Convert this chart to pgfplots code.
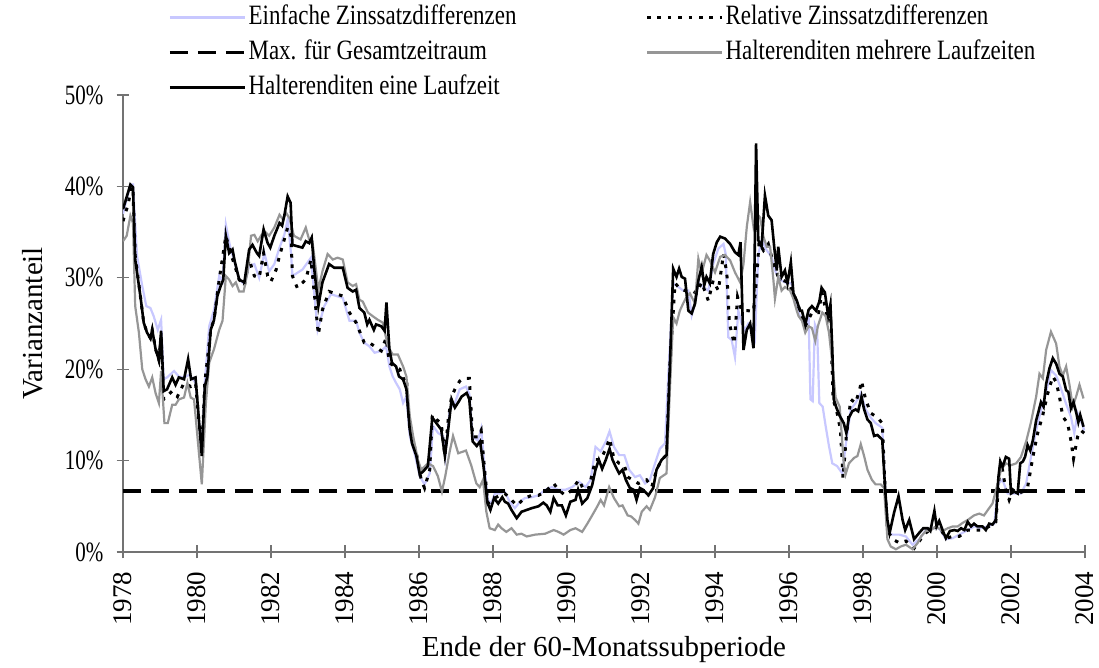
\documentclass[border=0pt]{standalone}
\usepackage{pgfplots}
\pgfplotsset{compat=1.18}
\usepackage{fontspec}
\setmainfont{Liberation Serif}
\newfontfamily\legfont[FakeStretch=0.82]{Liberation Serif}
\newfontfamily\tickfont[FakeStretch=0.75]{Liberation Serif}
\definecolor{lavender}{RGB}{200,200,255}
\definecolor{midgray}{RGB}{150,150,150}

\begin{document}
\begin{tikzpicture}
\begin{axis}[
    scale only axis, width=481pt, height=228.5pt,
    xmin=1978, xmax=2004, ymin=0, ymax=50,
    axis lines*=left,
    axis line style={black!55, line width=0.6pt},
    tick style={black!55, line width=0.6pt},
    tick align=center, major tick length=6.5pt,
    xtick={1978,1980,...,2004},
    ytick={0,10,20,30,40,50},
    yticklabels={0\%,10\%,20\%,30\%,40\%,50\%},
    /pgf/number format/assume math mode=true,
    /pgf/number format/1000 sep={},
    xticklabel style={rotate=90, anchor=east, font=\fontsize{13.5}{16}\selectfont},
    yticklabel style={font=\tickfont\fontsize{14}{16}\selectfont},
    xticklabel shift=3pt, yticklabel shift=3pt,
    xlabel={Ende der 60-Monatssubperiode},
    ylabel={Varianzanteil},
    xlabel style={font=\fontsize{14.5}{17}\selectfont, at={(axis description cs:0.5,-0.2144)}, anchor=center},
    ylabel style={font=\fontsize{14.5}{17}\selectfont, at={(axis description cs:-0.0936,0.5)}, anchor=center},
    legend columns=2, legend cell align=left,
    legend style={draw=none, fill=none, at={(axis description cs:0,1)}, anchor=north west,
        xshift=22.5pt, yshift=47pt, font=\legfont\fontsize{14}{17}\selectfont,
        inner sep=0pt, row sep=1.5pt, /tikz/column 2/.style={column sep=63.5pt},
        nodes={inner sep=1pt, text height=10.5pt, text depth=3.5pt}},
    legend image code/.code={\draw[#1] (0pt,0pt) -- (37.5pt,0pt);},
]
% Einfache Zinssatzdifferenzen
\addplot[lavender, line width=1.1pt] coordinates {
(1978.00,37.0) (1978.20,40.2) (1978.27,40.2) (1978.38,32.4) (1978.52,29.1) (1978.63,26.9)
(1978.74,26.7) (1978.83,25.8) (1978.94,24.3) (1979.03,25.4) (1979.10,18.9) (1979.19,19.1)
(1979.38,19.8) (1979.51,19.2) (1979.65,19.1) (1979.80,19.4) (1979.96,18.5) (1980.13,10.8)
(1980.21,18.5) (1980.33,24.7) (1980.46,26.5) (1980.60,30.2) (1980.69,29.6) (1980.78,35.8)
(1980.91,33.1) (1981.00,32.0) (1981.14,29.8) (1981.28,29.3) (1981.41,31.3) (1981.55,31.5)
(1981.68,30.0) (1981.82,32.7) (1981.95,30.7) (1982.09,31.5) (1982.23,33.3) (1982.36,34.7)
(1982.45,36.4) (1982.54,32.7) (1982.58,30.2) (1982.85,30.9) (1983.08,32.2) (1983.26,24.3)
(1983.44,26.9) (1983.62,28.2) (1983.94,27.8) (1984.12,25.3) (1984.30,25.3) (1984.39,24.0)
(1984.52,22.9) (1984.66,22.5) (1984.80,21.8) (1984.98,22.0) (1985.11,22.5) (1985.20,20.3)
(1985.29,19.2) (1985.38,18.5) (1985.48,17.8) (1985.57,16.3) (1985.66,17.0) (1985.75,12.7)
(1985.88,10.8) (1986.02,8.3) (1986.15,7.4) (1986.29,8.6) (1986.38,13.8) (1986.52,13.0)
(1986.65,12.7) (1986.71,10.5) (1986.83,15.6) (1986.97,16.3) (1987.10,17.8) (1987.27,18.1)
(1987.36,17.3) (1987.45,12.6) (1987.59,12.2) (1987.68,13.5) (1987.77,9.3) (1987.86,5.7)
(1987.95,5.3) (1988.05,6.4) (1988.18,6.4) (1988.32,6.6) (1988.45,5.5) (1988.59,4.8)
(1988.73,5.5) (1988.86,5.9) (1989.05,6.0) (1989.23,6.2) (1989.41,6.8) (1989.59,7.1)
(1989.77,6.8) (1989.95,6.8) (1990.14,7.1) (1990.32,7.7) (1990.50,7.1) (1990.64,7.9)
(1990.77,11.5) (1990.91,11.0) (1991.05,12.1) (1991.15,13.2) (1991.27,11.5) (1991.41,10.6)
(1991.55,10.6) (1991.68,9.0) (1991.84,8.2) (1991.97,8.4) (1992.11,7.5) (1992.24,7.9)
(1992.38,9.7) (1992.51,11.3) (1992.65,11.9) (1992.74,19.5) (1992.87,29.4) (1993.01,29.0)
(1993.14,28.6) (1993.28,28.6) (1993.37,25.9) (1993.46,27.2) (1993.55,29.5) (1993.68,29.0)
(1993.82,28.6) (1993.95,31.5) (1994.09,33.2) (1994.23,33.7) (1994.29,32.6) (1994.36,23.5)
(1994.45,23.2) (1994.54,21.3) (1994.63,26.4) (1994.72,25.0) (1994.81,24.3) (1994.90,25.0)
(1995.01,24.6) (1995.08,23.5) (1995.17,32.6) (1995.26,34.1) (1995.40,33.0) (1995.53,32.3)
(1995.62,30.8) (1995.71,30.1) (1995.80,29.7) (1995.94,29.4) (1996.07,29.4) (1996.16,27.2)
(1996.30,25.8) (1996.44,24.7) (1996.53,25.8) (1996.58,16.7) (1996.64,16.5) (1996.70,24.9)
(1996.76,24.3) (1996.82,16.3) (1996.91,15.9) (1996.99,13.8) (1997.08,11.6) (1997.17,9.7)
(1997.30,9.4) (1997.44,8.6) (1997.53,11.6) (1997.67,15.6) (1997.80,16.3) (1997.94,17.4)
(1998.07,15.6) (1998.21,14.7) (1998.34,14.1) (1998.52,13.6) (1998.60,7.2) (1998.66,2.1)
(1998.80,1.9) (1998.98,1.9) (1999.16,1.7) (1999.34,0.8) (1999.52,1.4) (1999.70,2.4)
(1999.88,2.6) (2000.06,2.6) (2000.24,1.4) (2000.42,1.5) (2000.60,1.9) (2000.83,2.4)
(2001.01,2.8) (2001.19,2.6) (2001.37,2.8) (2001.55,3.1) (2001.66,7.5) (2001.77,7.9)
(2001.91,6.4) (2002.09,6.4) (2002.27,6.4) (2002.41,7.5) (2002.54,10.4) (2002.68,13.3)
(2002.81,15.5) (2002.95,17.5) (2003.08,19.9) (2003.22,19.3) (2003.35,17.9) (2003.49,16.2)
(2003.62,14.8) (2003.71,13.0) (2003.80,15.2) (2003.89,14.4) (2003.98,13.3)
};
\addlegendentry{Einfache Zinssatzdifferenzen}
% Relative Zinssatzdifferenzen
\addplot[black, line width=1.5pt, dash pattern=on 1.8pt off 3.4pt] coordinates {
(1978.00,36.2) (1978.15,38.2) (1978.22,40.0) (1978.27,39.5) (1978.33,32.4) (1978.47,28.0)
(1978.56,25.1) (1978.65,24.0) (1978.74,23.4) (1978.79,24.3) (1978.88,22.2) (1978.97,21.0)
(1979.03,23.5) (1979.10,16.7) (1979.33,17.6) (1979.47,17.0) (1979.65,18.5) (1979.83,18.1)
(1979.96,18.5) (1980.13,10.8) (1980.21,18.5) (1980.37,24.3) (1980.46,25.4) (1980.60,29.8)
(1980.78,34.6) (1980.91,32.7) (1981.14,29.8) (1981.28,29.1) (1981.41,32.0) (1981.55,30.2)
(1981.68,30.0) (1981.80,32.7) (1981.91,30.2) (1982.00,29.6) (1982.14,30.9) (1982.23,32.4)
(1982.36,34.2) (1982.45,35.5) (1982.54,34.6) (1982.58,30.2) (1982.71,28.9) (1982.94,29.8)
(1983.08,32.0) (1983.28,23.8) (1983.39,26.5) (1983.57,28.5) (1983.94,28.0) (1984.12,26.2)
(1984.30,25.1) (1984.39,24.2) (1984.52,22.9) (1984.66,22.9) (1984.80,22.5) (1984.98,22.0)
(1985.11,23.4) (1985.20,20.7) (1985.34,20.3) (1985.48,20.0) (1985.57,18.9) (1985.66,19.1)
(1985.75,13.4) (1985.93,10.8) (1986.06,7.9) (1986.15,7.0) (1986.29,9.0) (1986.36,15.0)
(1986.47,14.5) (1986.60,14.1) (1986.70,10.5) (1986.79,14.5) (1986.88,17.0) (1986.97,17.8)
(1987.10,18.7) (1987.20,19.0) (1987.36,19.0) (1987.45,12.6) (1987.59,12.6) (1987.68,13.3)
(1987.77,9.1) (1987.86,5.3) (1988.05,5.9) (1988.18,6.2) (1988.32,6.4) (1988.50,5.7)
(1988.64,5.1) (1988.86,5.9) (1989.05,6.2) (1989.23,6.2) (1989.41,6.6) (1989.64,7.5)
(1989.77,6.8) (1989.95,6.2) (1990.14,6.8) (1990.32,7.9) (1990.45,6.8) (1990.59,7.0)
(1990.77,10.1) (1990.91,10.1) (1991.05,11.3) (1991.15,12.4) (1991.27,10.2) (1991.41,9.7)
(1991.55,9.5) (1991.64,8.2) (1991.77,7.9) (1991.93,7.5) (1992.15,7.9) (1992.29,7.1)
(1992.42,9.0) (1992.56,10.1) (1992.69,10.6) (1992.78,20.3) (1992.92,29.4) (1993.06,28.8)
(1993.19,28.6) (1993.37,28.6) (1993.50,28.3) (1993.64,29.5) (1993.82,27.5) (1993.95,29.7)
(1994.09,28.6) (1994.23,32.6) (1994.32,30.5) (1994.39,25.0) (1994.52,22.8) (1994.61,27.9)
(1994.72,26.4) (1994.90,26.4) (1995.04,26.3) (1995.13,30.1) (1995.19,33.9) (1995.31,33.0)
(1995.44,33.7) (1995.58,31.5) (1995.71,30.1) (1995.85,29.7) (1995.98,29.5) (1996.16,27.9)
(1996.30,26.4) (1996.44,24.7) (1996.62,26.2) (1996.80,26.2) (1996.89,28.4) (1997.03,25.8)
(1997.12,26.5) (1997.19,16.7) (1997.28,15.6) (1997.39,13.4) (1997.46,8.1) (1997.55,12.7)
(1997.67,16.7) (1997.80,16.3) (1997.91,17.8) (1997.96,18.7) (1998.07,16.7) (1998.21,15.2)
(1998.39,14.7) (1998.52,14.1) (1998.60,6.8) (1998.66,2.4) (1998.80,1.4) (1998.98,1.0)
(1999.16,1.2) (1999.38,0.4) (1999.56,1.4) (1999.70,2.1) (1999.88,2.6) (2000.06,2.8)
(2000.24,1.5) (2000.42,1.7) (2000.60,1.7) (2000.83,2.4) (2001.01,2.4) (2001.23,2.4)
(2001.41,2.8) (2001.59,3.3) (2001.68,8.2) (2001.77,9.0) (2001.86,6.8) (2001.95,5.7)
(2002.05,6.8) (2002.18,6.4) (2002.32,6.6) (2002.45,7.1) (2002.59,10.4) (2002.72,13.0)
(2002.86,15.0) (2002.99,17.3) (2003.13,19.2) (2003.22,18.6) (2003.31,17.0) (2003.40,14.8)
(2003.53,14.1) (2003.62,12.2) (2003.69,10.2) (2003.80,12.6) (2003.89,13.3) (2003.98,13.0)
};
\addlegendentry{Relative Zinssatzdifferenzen}
% Max. fuer Gesamtzeitraum
\addplot[black, line width=1.6pt, dash pattern=on 9pt off 5pt] coordinates {
(1978,6.67) (2004,6.67)
};
\addlegendentry{Max. für Gesamtzeitraum}
% Halterenditen mehrere Laufzeiten
\addplot[midgray, line width=1.1pt] coordinates {
(1978.00,34.0) (1978.10,34.6) (1978.20,36.8) (1978.27,36.0) (1978.33,26.9) (1978.43,24.0)
(1978.52,20.0) (1978.61,18.9) (1978.70,18.1) (1978.79,19.1) (1978.88,17.4) (1978.97,16.3)
(1979.03,19.8) (1979.12,14.1) (1979.21,14.1) (1979.33,16.1) (1979.42,16.1) (1979.51,16.7)
(1979.65,16.9) (1979.74,18.5) (1979.83,16.9) (1979.92,16.7) (1980.13,7.4) (1980.24,16.3)
(1980.33,20.7) (1980.46,22.2) (1980.60,24.3) (1980.69,25.3) (1980.78,30.2) (1980.87,29.8)
(1980.96,29.1) (1981.05,29.5) (1981.14,28.5) (1981.26,28.5) (1981.37,30.7) (1981.46,34.6)
(1981.55,34.7) (1981.64,34.0) (1981.73,34.6) (1981.82,35.1) (1981.95,34.6) (1982.09,35.5)
(1982.23,36.9) (1982.32,36.4) (1982.41,37.1) (1982.50,36.5) (1982.62,34.6) (1982.80,34.2)
(1982.94,35.5) (1983.03,34.2) (1983.12,34.0) (1983.28,28.7) (1983.39,30.7) (1983.53,32.6)
(1983.67,32.0) (1983.80,32.2) (1983.94,32.0) (1984.07,29.5) (1984.21,29.1) (1984.30,29.3)
(1984.39,27.6) (1984.48,27.4) (1984.62,26.2) (1984.75,25.8) (1984.89,25.4) (1985.02,25.1)
(1985.16,22.5) (1985.29,21.6) (1985.43,21.6) (1985.57,20.3) (1985.66,19.2) (1985.75,14.9)
(1985.84,12.7) (1985.97,10.1) (1986.06,9.0) (1986.24,9.7) (1986.38,9.4) (1986.51,8.3)
(1986.62,6.6) (1986.71,8.3) (1986.83,11.0) (1986.92,12.7) (1987.06,10.8) (1987.27,11.1)
(1987.41,9.5) (1987.55,7.5) (1987.64,7.1) (1987.73,7.9) (1987.82,4.4) (1987.91,2.6)
(1988.05,2.4) (1988.14,3.0) (1988.23,2.6) (1988.36,2.2) (1988.50,2.6) (1988.64,1.9)
(1988.77,2.0) (1988.91,1.7) (1989.14,1.9) (1989.41,2.0) (1989.64,2.4) (1989.77,2.2)
(1989.91,1.9) (1990.09,2.4) (1990.23,2.6) (1990.41,2.2) (1990.55,3.1) (1990.68,4.0)
(1990.82,5.0) (1990.91,5.7) (1991.00,5.1) (1991.14,7.1) (1991.27,5.9) (1991.41,5.0)
(1991.50,5.1) (1991.64,4.0) (1991.73,3.9) (1991.84,3.5) (1991.93,3.1) (1992.02,4.4)
(1992.15,5.0) (1992.24,4.6) (1992.38,6.0) (1992.51,8.1) (1992.69,8.6) (1992.78,17.7)
(1992.87,25.7) (1992.96,25.0) (1993.05,26.4) (1993.14,27.2) (1993.23,27.9) (1993.32,28.3)
(1993.46,27.2) (1993.55,32.1) (1993.64,30.5) (1993.77,32.5) (1993.86,31.9) (1994.00,30.6)
(1994.14,32.3) (1994.27,32.5) (1994.41,31.9) (1994.54,30.6) (1994.68,29.5) (1994.77,31.5)
(1994.86,35.6) (1994.95,38.3) (1995.04,35.6) (1995.13,37.0) (1995.22,36.6) (1995.31,34.5)
(1995.40,33.4) (1995.49,33.4) (1995.58,29.7) (1995.62,27.7) (1995.71,30.1) (1995.80,28.6)
(1995.89,29.0) (1996.03,28.6) (1996.12,27.7) (1996.21,26.4) (1996.26,25.8) (1996.35,25.3)
(1996.44,24.0) (1996.53,24.7) (1996.62,24.5) (1996.71,23.1) (1996.78,24.7) (1996.90,26.2)
(1996.99,25.8) (1997.08,24.0) (1997.17,20.7) (1997.26,16.9) (1997.37,15.9) (1997.48,9.7)
(1997.53,8.5) (1997.62,9.7) (1997.76,10.3) (1997.85,10.5) (1997.94,11.8) (1998.03,10.5)
(1998.12,9.0) (1998.24,7.9) (1998.34,7.4) (1998.48,7.4) (1998.57,7.0) (1998.66,1.4)
(1998.75,0.6) (1998.89,0.3) (1999.02,0.6) (1999.16,0.8) (1999.34,0.3) (1999.48,1.0)
(1999.57,1.7) (1999.70,2.3) (1999.84,2.4) (1999.97,2.8) (2000.15,2.3) (2000.29,2.6)
(2000.43,2.8) (2000.56,2.8) (2000.70,3.2) (2000.83,3.5) (2001.00,4.0) (2001.14,4.2)
(2001.27,4.0) (2001.41,4.8) (2001.50,5.3) (2001.64,7.5) (2001.73,9.0) (2001.86,9.7)
(2002.00,9.5) (2002.14,9.7) (2002.27,10.4) (2002.41,12.1) (2002.54,14.2) (2002.68,17.0)
(2002.77,19.5) (2002.86,19.0) (2002.95,22.1) (2003.08,24.1) (2003.22,22.8) (2003.31,20.3)
(2003.40,19.3) (2003.49,20.3) (2003.58,18.3) (2003.67,15.9) (2003.76,17.0) (2003.85,18.3)
(2003.96,16.8)
};
\addlegendentry{Halterenditen mehrere Laufzeiten}
% Halterenditen eine Laufzeit
\addplot[black, line width=1.3pt] coordinates {
(1978.00,37.5) (1978.20,40.2) (1978.27,39.9) (1978.33,32.0) (1978.47,28.0) (1978.56,25.1)
(1978.65,24.0) (1978.74,23.4) (1978.79,24.3) (1978.88,22.2) (1978.97,21.0) (1979.03,24.2)
(1979.10,17.6) (1979.19,17.8) (1979.33,19.1) (1979.42,18.3) (1979.51,19.1) (1979.65,18.9)
(1979.76,21.1) (1979.84,18.9) (1979.96,19.1) (1980.13,10.5) (1980.21,18.1) (1980.28,19.2)
(1980.37,24.3) (1980.46,25.4) (1980.55,28.0) (1980.64,29.1) (1980.71,29.8) (1980.78,34.6)
(1980.87,32.7) (1980.96,33.1) (1981.02,31.8) (1981.14,29.8) (1981.28,29.5) (1981.41,33.1)
(1981.50,33.6) (1981.62,32.7) (1981.68,32.4) (1981.80,35.3) (1981.91,33.8) (1981.98,33.3)
(1982.09,34.6) (1982.23,36.0) (1982.30,35.7) (1982.36,36.8) (1982.45,38.9) (1982.53,38.2)
(1982.58,33.6) (1982.67,33.5) (1982.85,33.3) (1982.94,34.0) (1983.03,33.8) (1983.10,34.4)
(1983.17,30.9) (1983.28,26.9) (1983.39,29.5) (1983.57,31.5) (1983.71,31.1) (1983.94,31.1)
(1984.07,28.9) (1984.21,28.5) (1984.30,28.7) (1984.39,26.7) (1984.52,26.2) (1984.60,24.9)
(1984.66,25.4) (1984.78,24.3) (1984.84,24.9) (1984.98,24.7) (1985.07,24.2) (1985.12,27.3)
(1985.20,22.2) (1985.27,20.7) (1985.38,20.3) (1985.46,19.2) (1985.57,18.9) (1985.66,17.8)
(1985.75,13.4) (1985.81,11.9) (1985.93,10.5) (1986.02,8.5) (1986.11,8.8) (1986.24,9.4)
(1986.36,14.7) (1986.47,14.1) (1986.60,13.4) (1986.70,10.5) (1986.77,12.7) (1986.88,16.7)
(1986.97,15.8) (1987.08,16.5) (1987.15,17.0) (1987.29,17.4) (1987.36,16.7) (1987.45,12.1)
(1987.56,11.6) (1987.65,12.1) (1987.74,9.5) (1987.85,5.4) (1987.93,4.6) (1988.03,5.9)
(1988.14,5.3) (1988.25,6.0) (1988.32,5.5) (1988.41,5.3) (1988.50,4.6) (1988.64,3.7)
(1988.77,4.4) (1988.91,4.6) (1989.05,4.8) (1989.23,5.0) (1989.36,5.4) (1989.45,5.1)
(1989.55,4.4) (1989.64,5.9) (1989.75,5.1) (1989.86,5.1) (1989.97,4.0) (1990.09,5.5)
(1990.23,5.7) (1990.30,6.8) (1990.41,5.3) (1990.55,5.9) (1990.68,7.3) (1990.77,9.0)
(1990.86,10.1) (1990.95,9.1) (1991.05,10.1) (1991.15,11.3) (1991.23,10.1) (1991.32,9.3)
(1991.41,8.6) (1991.50,9.0) (1991.59,7.9) (1991.70,7.0) (1991.80,6.8) (1991.88,5.7)
(1991.97,7.0) (1992.06,6.8) (1992.20,6.2) (1992.33,7.0) (1992.42,9.0) (1992.56,10.1)
(1992.69,10.6) (1992.78,20.3) (1992.87,31.0) (1992.96,30.1) (1993.03,31.0) (1993.10,30.1)
(1993.19,29.9) (1993.28,26.4) (1993.37,26.1) (1993.46,27.2) (1993.55,29.7) (1993.64,31.2)
(1993.71,29.2) (1993.77,30.1) (1993.86,29.4) (1993.95,32.6) (1994.05,33.9) (1994.14,34.5)
(1994.27,34.3) (1994.41,33.7) (1994.54,32.8) (1994.63,32.5) (1994.69,33.9) (1994.77,22.1)
(1994.86,24.3) (1994.95,25.0) (1995.04,22.3) (1995.11,44.7) (1995.17,34.1) (1995.26,33.4)
(1995.35,39.0) (1995.44,36.8) (1995.53,36.3) (1995.60,33.4) (1995.67,30.8) (1995.71,33.4)
(1995.80,30.1) (1995.89,30.8) (1995.96,29.4) (1996.05,31.7) (1996.12,28.3) (1996.21,27.5)
(1996.30,26.4) (1996.35,26.4) (1996.44,24.9) (1996.53,26.5) (1996.62,26.9) (1996.73,26.4)
(1996.82,27.4) (1996.88,28.9) (1996.97,28.4) (1997.06,25.8) (1997.12,27.1) (1997.17,22.2)
(1997.21,16.7) (1997.28,15.8) (1997.37,14.9) (1997.48,14.1) (1997.55,13.0) (1997.62,14.7)
(1997.71,15.4) (1997.80,15.6) (1997.87,15.4) (1997.96,17.0) (1998.03,15.6) (1998.12,14.5)
(1998.21,14.1) (1998.30,12.7) (1998.39,12.8) (1998.52,12.3) (1998.60,6.8) (1998.66,3.5)
(1998.72,2.1) (1998.84,4.3) (1998.96,6.1) (1999.07,3.5) (1999.14,2.4) (1999.25,3.5)
(1999.38,1.4) (1999.52,2.1) (1999.63,2.6) (1999.75,2.6) (1999.82,2.3) (1999.93,4.5)
(1999.99,2.8) (2000.06,3.4) (2000.15,2.4) (2000.24,1.5) (2000.35,2.3) (2000.47,2.4)
(2000.56,2.3) (2000.65,2.6) (2000.74,2.4) (2000.83,3.3) (2000.92,2.8) (2001.00,3.1)
(2001.09,2.8) (2001.23,2.8) (2001.32,2.4) (2001.41,3.1) (2001.50,3.0) (2001.59,3.5)
(2001.66,8.2) (2001.71,9.9) (2001.77,9.3) (2001.86,10.4) (2001.95,10.2) (2002.00,6.4)
(2002.09,6.6) (2002.18,6.4) (2002.25,9.7) (2002.32,9.9) (2002.38,10.4) (2002.45,11.7)
(2002.52,11.1) (2002.59,12.2) (2002.68,14.4) (2002.74,15.3) (2002.81,16.4) (2002.88,15.9)
(2002.95,18.4) (2003.04,20.1) (2003.13,21.2) (2003.22,20.6) (2003.31,19.5) (2003.40,19.2)
(2003.49,17.7) (2003.55,17.5) (2003.62,15.7) (2003.69,16.4) (2003.76,15.3) (2003.82,14.2)
(2003.87,15.0) (2003.96,13.7)
};
\addlegendentry{Halterenditen eine Laufzeit}
\end{axis}
\pgfresetboundingbox
\path[use as bounding box] (-61.5pt,-58pt) rectangle (488pt,276pt);
\end{tikzpicture}
\end{document}
